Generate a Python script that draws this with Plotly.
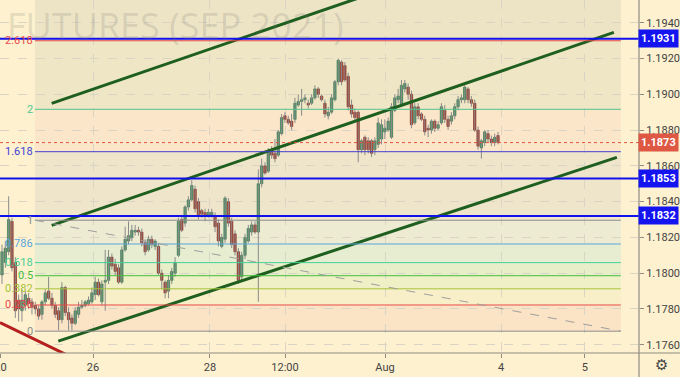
import plotly.graph_objects as go

# ---------------- data (hourly bars, EUR futures) ----------------
opens = [1.1799, 1.1806, 1.1812, 1.1829, 1.1806, 1.1785, 1.1779, 1.1782, 1.1786, 1.1784,
         1.1782, 1.1780, 1.1777, 1.1784, 1.1790, 1.1786, 1.1782, 1.1779, 1.1774, 1.1792,
         1.1778, 1.1775, 1.1772, 1.1777, 1.1781, 1.1782, 1.1783, 1.1784, 1.1788, 1.1795,
         1.1784, 1.1795, 1.1796, 1.1809, 1.1805, 1.1803, 1.1795, 1.1813, 1.1818, 1.1820,
         1.1823, 1.1824, 1.1823, 1.1817, 1.1813, 1.1819, 1.1815, 1.1815, 1.1800, 1.1795,
         1.1790, 1.1796, 1.1800, 1.1810, 1.1830, 1.1828, 1.1837, 1.1841, 1.1847, 1.1840,
         1.1835, 1.1834, 1.1832, 1.1832, 1.1832, 1.1828, 1.1815, 1.1819, 1.1840, 1.1829,
         1.1822, 1.1812, 1.1798, 1.1810, 1.1818, 1.1823, 1.1827, 1.1823, 1.1850, 1.1860,
         1.1857, 1.1869, 1.1867, 1.1866, 1.1878, 1.1888, 1.1886, 1.1885, 1.1886, 1.1894,
         1.1896, 1.1897, 1.1895, 1.1895, 1.1898, 1.1903, 1.1899, 1.1895, 1.1888, 1.1890,
         1.1897, 1.1907, 1.1918, 1.1916, 1.1910, 1.1894, 1.1890, 1.1890, 1.1869, 1.1876,
         1.1874, 1.1874, 1.1869, 1.1872, 1.1875, 1.1879, 1.1880, 1.1876, 1.1891, 1.1897,
         1.1894, 1.1903, 1.1904, 1.1900, 1.1884, 1.1893, 1.1889, 1.1886, 1.1881, 1.1880,
         1.1885, 1.1881, 1.1884, 1.1891, 1.1886, 1.1885, 1.1888, 1.1893, 1.1897, 1.1897,
         1.1903, 1.1897, 1.1895, 1.1880, 1.1870, 1.1873, 1.1878, 1.1875, 1.1873, 1.1877]

highs = [1.1816, 1.1818, 1.1843, 1.1831, 1.1809, 1.1788, 1.1791, 1.1790, 1.1789, 1.1786,
         1.1784, 1.1782, 1.1785, 1.1791, 1.1798, 1.1789, 1.1784, 1.1781, 1.1795, 1.1793,
         1.1781, 1.1777, 1.1781, 1.1784, 1.1785, 1.1785, 1.1787, 1.1792, 1.1798, 1.1797,
         1.1796, 1.1813, 1.1813, 1.1811, 1.1808, 1.1805, 1.1815, 1.1826, 1.1829, 1.1827,
         1.1827, 1.1826, 1.1825, 1.1819, 1.1821, 1.1821, 1.1819, 1.1817, 1.1802, 1.1796,
         1.1799, 1.1803, 1.1809, 1.1831, 1.1832, 1.1838, 1.1843, 1.1852, 1.1849, 1.1842,
         1.1836, 1.1836, 1.1836, 1.1836, 1.1834, 1.1830, 1.1822, 1.1843, 1.1842, 1.1831,
         1.1824, 1.1814, 1.1812, 1.1822, 1.1827, 1.1829, 1.1829, 1.1858, 1.1864, 1.1862,
         1.1870, 1.1871, 1.1875, 1.1880, 1.1889, 1.1890, 1.1888, 1.1889, 1.1898, 1.1900,
         1.1903, 1.1900, 1.1897, 1.1900, 1.1905, 1.1904, 1.1900, 1.1897, 1.1893, 1.1900,
         1.1908, 1.1920, 1.1919, 1.1918, 1.1912, 1.1897, 1.1892, 1.1891, 1.1875, 1.1877,
         1.1876, 1.1875, 1.1876, 1.1887, 1.1886, 1.1886, 1.1887, 1.1895, 1.1900, 1.1903,
         1.1908, 1.1908, 1.1906, 1.1902, 1.1895, 1.1895, 1.1890, 1.1888, 1.1883, 1.1886,
         1.1886, 1.1885, 1.1895, 1.1894, 1.1888, 1.1890, 1.1895, 1.1899, 1.1900, 1.1905,
         1.1904, 1.1899, 1.1897, 1.1882, 1.1875, 1.1880, 1.1880, 1.1877, 1.1878, 1.1879]

lows = [1.1794, 1.1803, 1.1810, 1.1801, 1.1775, 1.1773, 1.1773, 1.1779, 1.1780, 1.1777,
        1.1777, 1.1774, 1.1774, 1.1782, 1.1785, 1.1780, 1.1775, 1.1768, 1.1772, 1.1776,
        1.1768, 1.1768, 1.1771, 1.1775, 1.1780, 1.1781, 1.1782, 1.1783, 1.1785, 1.1787,
        1.1782, 1.1779, 1.1794, 1.1802, 1.1799, 1.1794, 1.1794, 1.1812, 1.1816, 1.1818,
        1.1821, 1.1821, 1.1815, 1.1810, 1.1812, 1.1814, 1.1813, 1.1799, 1.1791, 1.1786,
        1.1786, 1.1794, 1.1798, 1.1809, 1.1823, 1.1826, 1.1835, 1.1840, 1.1834, 1.1830,
        1.1831, 1.1829, 1.1831, 1.1831, 1.1823, 1.1815, 1.1814, 1.1817, 1.1826, 1.1814,
        1.1810, 1.1794, 1.1796, 1.1808, 1.1817, 1.1821, 1.1822, 1.1784, 1.1848, 1.1855,
        1.1856, 1.1864, 1.1862, 1.1865, 1.1877, 1.1884, 1.1883, 1.1880, 1.1884, 1.1893,
        1.1888, 1.1895, 1.1892, 1.1894, 1.1897, 1.1898, 1.1896, 1.1887, 1.1886, 1.1889,
        1.1896, 1.1905, 1.1905, 1.1907, 1.1891, 1.1887, 1.1885, 1.1862, 1.1867, 1.1866,
        1.1867, 1.1865, 1.1866, 1.1870, 1.1872, 1.1875, 1.1879, 1.1875, 1.1890, 1.1895,
        1.1893, 1.1901, 1.1897, 1.1881, 1.1883, 1.1886, 1.1885, 1.1877, 1.1876, 1.1878,
        1.1879, 1.1880, 1.1883, 1.1884, 1.1880, 1.1883, 1.1886, 1.1891, 1.1895, 1.1895,
        1.1895, 1.1893, 1.1879, 1.1869, 1.1864, 1.1871, 1.1873, 1.1871, 1.1871, 1.1872]

closes = [1.1812, 1.1814, 1.1830, 1.1803, 1.1779, 1.1780, 1.1785, 1.1788, 1.1783, 1.1781,
          1.1780, 1.1776, 1.1784, 1.1789, 1.1786, 1.1782, 1.1777, 1.1774, 1.1792, 1.1778,
          1.1774, 1.1772, 1.1779, 1.1781, 1.1782, 1.1784, 1.1785, 1.1789, 1.1795, 1.1788,
          1.1794, 1.1796, 1.1809, 1.1804, 1.1801, 1.1795, 1.1813, 1.1819, 1.1821, 1.1824,
          1.1824, 1.1823, 1.1817, 1.1812, 1.1819, 1.1816, 1.1818, 1.1800, 1.1796, 1.1789,
          1.1796, 1.1801, 1.1806, 1.1829, 1.1824, 1.1837, 1.1841, 1.1849, 1.1836, 1.1832,
          1.1833, 1.1832, 1.1834, 1.1834, 1.1826, 1.1818, 1.1820, 1.1842, 1.1828, 1.1816,
          1.1812, 1.1796, 1.1810, 1.1820, 1.1825, 1.1827, 1.1823, 1.1850, 1.1860, 1.1856,
          1.1868, 1.1866, 1.1864, 1.1879, 1.1887, 1.1886, 1.1884, 1.1882, 1.1895, 1.1896,
          1.1897, 1.1898, 1.1894, 1.1898, 1.1903, 1.1900, 1.1897, 1.1889, 1.1890, 1.1898,
          1.1907, 1.1919, 1.1907, 1.1908, 1.1893, 1.1889, 1.1887, 1.1869, 1.1874, 1.1869,
          1.1869, 1.1867, 1.1874, 1.1884, 1.1883, 1.1881, 1.1885, 1.1893, 1.1898, 1.1899,
          1.1905, 1.1906, 1.1900, 1.1883, 1.1893, 1.1888, 1.1886, 1.1879, 1.1880, 1.1885,
          1.1881, 1.1883, 1.1893, 1.1886, 1.1882, 1.1888, 1.1893, 1.1897, 1.1898, 1.1904,
          1.1897, 1.1895, 1.1880, 1.1871, 1.1874, 1.1879, 1.1875, 1.1873, 1.1876, 1.1873]

# horizontal support / resistance levels and last price
blue_levels = [1.1931, 1.1853, 1.1832]
last_price = 1.1873

# Fibonacci retracement (bar range, level-1 price, level-0 price)
fib_bars = [9.9, 185.9]
fib_p1 = 1.18296
fib_p0 = 1.17676
fib_ratios = [0, 0.236, 0.382, 0.5, 0.618, 0.786, 1, 1.618, 2, 2.618]
fib_labels = ["0", "0.236", "0.382", "0.5", "0.618", "0.786", "1", "1.618", "2", "2.618"]

# trend channel lines (bar, price)
chan_upper_x = [14.93, 183.8]
chan_upper_y = [1.18949, 1.20028]
chan_mid_x = [14.93, 183.8]
chan_mid_y = [1.18267, 1.19346]
chan_low_x = [16.91, 184.7]
chan_low_y = [1.17620, 1.18647]
red_line_x = [-0.6, 23.4]
red_line_y = [1.17724, 1.17508]

# axis ticks
x_tick_vals = [-0.45, 27.34, 62.48, 85.01, 115.05, 149.9, 175.1]
x_tick_text = ["20", "26", "28", "12:00", "Aug", "4", "5"]
y_tick_vals = [1.1760, 1.1780, 1.1800, 1.1820, 1.1840, 1.1860, 1.1880, 1.1900, 1.1920, 1.1940]

# ---------------- styling ----------------
BG = "#FDF1CF"
GRID = "#D9D4C4"
fib_line_colors = ["#8C8C8C", "#E84A4A", "#A6C43A", "#3FBF3F", "#45CF98",
                   "#5AA6DC", "#8C8C8C", "#3F3FD6", "#52C58E", "#E84A4A"]
fib_band_colors = ["#FBE3C6", "#F8EFC8", "#F0F0C6", "#E8EFC8", "#E6EDD0",
                   "#EEEBD3", "#EFE5CB", "#FCE6C9", "#EEE6C4", "#EDE4C6"]
FONT = "Roboto, Liberation Sans, Arial, sans-serif"

fig = go.Figure()

# wicks
bars = list(range(len(opens)))
wx, wy = [], []
for i in bars:
    wx += [i, i, None]
    wy += [lows[i], highs[i], None]
fig.add_trace(go.Scatter(x=wx, y=wy, mode="lines",
                         line=dict(color="#8A8A8A", width=1), hoverinfo="skip"))

min_body = 0.00004
up = [i for i in bars if closes[i] >= opens[i]]
dn = [i for i in bars if closes[i] < opens[i]]
fig.add_trace(go.Bar(x=up, base=[opens[i] for i in up],
                     y=[max(closes[i] - opens[i], min_body) for i in up],
                     width=0.72,
                     marker=dict(color="#4A9766", line=dict(color="#2E6B46", width=0.6)),
                     hoverinfo="skip"))
fig.add_trace(go.Bar(x=dn, base=[closes[i] for i in dn],
                     y=[max(opens[i] - closes[i], min_body) for i in dn],
                     width=0.72,
                     marker=dict(color="#A83A2C", line=dict(color="#7A2A20", width=0.6)),
                     hoverinfo="skip"))

# channel lines
for xs, ys in [(chan_upper_x, chan_upper_y), (chan_mid_x, chan_mid_y), (chan_low_x, chan_low_y)]:
    fig.add_trace(go.Scatter(x=xs, y=ys, mode="lines",
                             line=dict(color="#1E5E1E", width=3), hoverinfo="skip"))
fig.add_trace(go.Scatter(x=red_line_x, y=red_line_y, mode="lines",
                         line=dict(color="#B5201E", width=3), hoverinfo="skip"))

shapes = []
annotations = []
diff = fib_p1 - fib_p0
levels = [fib_p0 + r * diff for r in fib_ratios]
# fib bands
band_edges = levels + [fib_p0 + 3.618 * diff]
for k in range(len(levels)):
    shapes.append(dict(type="rect", xref="x", yref="y", x0=fib_bars[0], x1=fib_bars[1],
                       y0=band_edges[k], y1=band_edges[k + 1],
                       fillcolor=fib_band_colors[k], line=dict(width=0), layer="below"))
# fib lines + labels
for k, lv in enumerate(levels):
    shapes.append(dict(type="line", xref="x", yref="y", x0=fib_bars[0], x1=fib_bars[1],
                       y0=lv, y1=lv, line=dict(color=fib_line_colors[k], width=1)))
    annotations.append(dict(xref="x", yref="y", x=fib_bars[0], y=lv, xanchor="right",
                            yanchor="middle", xshift=-1, text=fib_labels[k], showarrow=False,
                            borderpad=0,
                            font=dict(family=FONT, size=11, color=fib_line_colors[k])))
# fib trend diagonal
shapes.append(dict(type="line", xref="x", yref="y", x0=fib_bars[0], x1=fib_bars[1],
                   y0=fib_p1, y1=fib_p0, line=dict(color="#9E9E9E", width=1, dash="dash")))

# blue horizontal levels
for lv in blue_levels:
    shapes.append(dict(type="line", xref="paper", yref="y", x0=0, x1=1, y0=lv, y1=lv,
                       line=dict(color="#1111EE", width=2)))
    annotations.append(dict(xref="paper", yref="y", x=1, y=lv, xanchor="left", yanchor="middle",
                            xshift=-1, text="<b>%.4f</b>" % lv, showarrow=False,
                            bgcolor="#1414F0", borderpad=2,
                            font=dict(family=FONT, size=11, color="white")))
# last price
shapes.append(dict(type="line", xref="paper", yref="y", x0=0, x1=1, y0=last_price, y1=last_price,
                   line=dict(color="#E0533D", width=1, dash="dot")))
annotations.append(dict(xref="paper", yref="y", x=1, y=last_price, xanchor="left", yanchor="middle",
                        xshift=-1, text="<b>%.4f</b>" % last_price, showarrow=False,
                        bgcolor="#DE5843", borderpad=2,
                        font=dict(family=FONT, size=11, color="white")))

# axis frame lines
shapes.append(dict(type="line", xref="paper", yref="paper", x0=1, x1=1, y0=-0.07, y1=1,
                   line=dict(color="#908C80", width=1.2)))
shapes.append(dict(type="line", xref="paper", yref="paper", x0=0, x1=1.07, y0=0, y1=0,
                   line=dict(color="#908C80", width=1.2)))

# watermark
annotations.append(dict(xref="paper", yref="paper", x=0.009, y=1, xanchor="left", yanchor="top",
                        yshift=0, text="FUTURES (SEP 2021)", showarrow=False, borderpad=0,
                        font=dict(family="Open Sans", size=36, color="rgba(120,120,110,0.20)")))
# settings gear
annotations.append(dict(xref="paper", yref="paper", x=661 / 639, y=-12 / 353, xanchor="center",
                        yanchor="middle", text="⚙", showarrow=False,
                        font=dict(family="DejaVu Sans", size=15, color="#444")))

fig.update_layout(
    width=680, height=377,
    margin=dict(l=0, r=41, t=0, b=24, autoexpand=False),
    paper_bgcolor=BG, plot_bgcolor=BG,
    showlegend=False, barmode="overlay",
    shapes=shapes, annotations=annotations,
    font=dict(family=FONT, size=11, color="#444"),
)
fig.update_xaxes(range=[-0.6008, 191.35], tickvals=x_tick_vals, ticktext=x_tick_text,
                 showgrid=True, gridcolor=GRID, griddash="dash", gridwidth=1,
                 ticks="outside", ticklen=4, tickcolor="#908C80", zeroline=False,
                 ticklabeloverflow="allow", automargin=False,
                 showline=False, tickfont=dict(size=11, color="#444"), fixedrange=True)
fig.update_yaxes(range=[1.17554, 1.19527], side="right", tickvals=y_tick_vals,
                 ticktext=["%.4f" % v for v in y_tick_vals], automargin=False,
                 showgrid=True, gridcolor=GRID, griddash="dash", gridwidth=1,
                 ticks="outside", ticklen=4, tickcolor="#908C80", zeroline=False,
                 showline=False, tickfont=dict(size=11, color="#444"), fixedrange=True)

fig.write_html("out.html")
